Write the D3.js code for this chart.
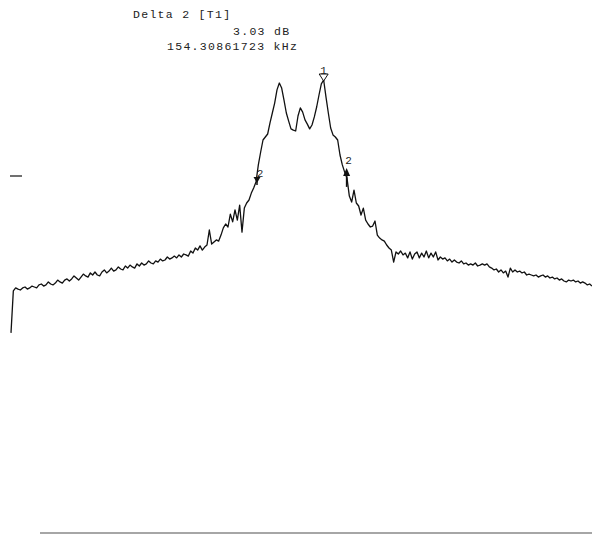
<!DOCTYPE html>
<html>
<head>
<meta charset="utf-8">
<script src="https://cdn.jsdelivr.net/npm/d3@7"></script>
<style>
  html, body { margin: 0; padding: 0; background: #fff; }
  svg { display: block; }
  .hdr { font-family: "Liberation Mono", "DejaVu Sans Mono", monospace; font-size: 11.5px; letter-spacing: 1.3px; fill: #222; }
  .mk  { font-family: "Liberation Mono", "DejaVu Sans Mono", monospace; font-size: 11px; fill: #222; }
</style>
</head>
<body>
<svg id="chart" width="592" height="534"></svg>
<script>
// Sweep: 250 trace points spread evenly over a 1 MHz span (offsets in kHz)
const sweepStartKHz = -500;
const sweepStopKHz = 500;

// Trace level in dB, one value per sweep point
const levelDb = [
  -8.43,
  -7.03, -6.93, -6.97, -7.00, -6.93, -6.90, -6.97, -6.93, -6.87, -6.90,
  -6.93, -6.83, -6.80, -6.87, -6.83, -6.73, -6.80, -6.83, -6.77, -6.67,
  -6.73, -6.77, -6.67, -6.63, -6.70, -6.63, -6.53, -6.60, -6.67, -6.57,
  -6.47, -6.53, -6.57, -6.43, -6.50, -6.40, -6.50, -6.53, -6.40, -6.33,
  -6.43, -6.37, -6.27, -6.37, -6.33, -6.23, -6.30, -6.33, -6.20, -6.27,
  -6.17, -6.23, -6.27, -6.13, -6.20, -6.10, -6.17, -6.13, -6.03, -6.10,
  -6.13, -6.03, -6.07, -5.97, -6.03, -6.00, -5.90, -5.97, -5.93, -5.87,
  -5.93, -5.83, -5.90, -5.80, -5.83, -5.87, -5.70, -5.77, -5.60, -5.67,
  -5.53, -5.67, -5.57, -5.50, -5.00, -5.47, -5.40, -5.33, -5.37,
  -5.17, -4.93, -4.80, -4.90, -4.47, -4.73, -4.33, -4.67, -4.17, -5.07,
  -4.27, -4.10, -4.00, -3.77, -3.60, -3.40, -2.83, -2.40, -2.00, -1.90,
  -1.80, -1.43, -1.10, -0.77, -0.33, -0.10, -0.27, -0.67, -1.10, -1.37,
  -1.63, -1.67, -1.70, -1.20, -0.93, -1.07, -1.33, -1.47, -1.63, -1.50,
  -1.23, -0.90, -0.50, -0.13, 0.00, -0.57, -1.10, -1.60, -1.83, -1.90,
  -2.00, -2.50, -2.83, -3.07, -3.27, -3.87, -4.07, -3.67, -4.10, -4.20,
  -4.50, -4.27, -4.67, -4.80, -4.90, -4.87, -4.70, -5.17, -5.27, -5.33,
  -5.37, -5.50, -5.60, -5.67, -6.07, -5.73, -5.80, -5.70, -5.83, -5.77,
  -5.93, -5.73, -5.97, -5.80, -5.73, -5.93, -5.77, -5.90, -5.70, -5.93,
  -5.77, -5.90, -5.73, -6.00, -5.90, -5.97, -5.93, -6.03, -5.97, -6.07,
  -6.00, -6.07, -6.10, -6.03, -6.13, -6.10, -6.17, -6.13, -6.17, -6.10,
  -6.20, -6.17, -6.13, -6.17, -6.13, -6.23, -6.27, -6.33, -6.30, -6.40,
  -6.33, -6.43, -6.37, -6.57, -6.27, -6.40, -6.33, -6.40, -6.37, -6.43,
  -6.40, -6.50, -6.47, -6.50, -6.53, -6.50, -6.57, -6.53, -6.50, -6.57,
  -6.53, -6.60, -6.57, -6.63, -6.60, -6.67, -6.63, -6.70, -6.73, -6.67,
  -6.70, -6.67, -6.73, -6.70, -6.77, -6.73, -6.77, -6.83, -6.80, -6.87
];

// Marker readout
const deltaTitle = "Delta 2 [T1]";
const deltaLevelDb = 3.03;
const deltaFreqKHz = 154.30861723;
const readoutLines = [deltaTitle, deltaLevelDb.toFixed(2) + " dB", deltaFreqKHz.toFixed(8) + " kHz"];

// Lower edge of the n-dB bandwidth (kHz offset); upper edge follows from the delta
const bandLowKHz = -76.6;
// Display line level (dB)
const displayLineDb = -3.2;

const svg = d3.select("#chart");

const x = d3.scaleLinear().domain([sweepStartKHz, sweepStopKHz]).range([11, 592]);
const y = d3.scaleLinear().domain([1, -15]).range([50, 530]);

const step = (sweepStopKHz - sweepStartKHz) / (levelDb.length - 1);
const trace = levelDb.map((v, i) => ({ f: sweepStartKHz + i * step, v }));

// Readout text block
const readoutPos = [[133, 18], [233, 35], [167, 50]];
svg.selectAll("text.hdr").data(readoutLines).join("text")
  .attr("class", "hdr")
  .attr("x", (d, i) => readoutPos[i][0])
  .attr("y", (d, i) => readoutPos[i][1])
  .text(d => d);

// Display line tick at the left edge
svg.append("line")
  .attr("x1", 10).attr("x2", 22)
  .attr("y1", y(displayLineDb)).attr("y2", y(displayLineDb))
  .attr("stroke", "#111").attr("stroke-width", 1.2);

// Trace
svg.append("path")
  .datum(trace)
  .attr("fill", "none")
  .attr("stroke", "#111")
  .attr("stroke-width", 1.3)
  .attr("stroke-linejoin", "round")
  .attr("d", d3.line().x(d => x(d.f)).y(d => y(d.v)));

// Marker 1 at the trace maximum
const peak = trace[d3.maxIndex(trace, d => d.v)];
const m1x = x(peak.f), m1y = y(peak.v);
svg.append("path")
  .attr("d", `M${m1x - 4.5},${m1y - 6} L${m1x + 4.5},${m1y - 6} L${m1x},${m1y + 1} Z`)
  .attr("fill", "#fff").attr("stroke", "#111").attr("stroke-width", 1);
svg.append("text").attr("class", "mk")
  .attr("x", m1x).attr("y", m1y - 6).attr("text-anchor", "middle").text("1");

// Marker 2 pair, deltaLevelDb below marker 1, deltaFreqKHz apart
const m2y = y(peak.v - deltaLevelDb);
const m2L = x(bandLowKHz);
const m2R = x(bandLowKHz + deltaFreqKHz);

svg.append("path")
  .attr("d", `M${m2L - 3.5},${m2y + 6} L${m2L + 3.5},${m2y + 6} L${m2L},${m2y + 12} Z`)
  .attr("fill", "#111");
svg.append("line")
  .attr("x1", m2L).attr("x2", m2L).attr("y1", m2y + 6).attr("y2", m2y + 14)
  .attr("stroke", "#111").attr("stroke-width", 1.5);
svg.append("text").attr("class", "mk")
  .attr("x", m2L + 3).attr("y", m2y + 6).attr("text-anchor", "middle").text("2");

svg.append("path")
  .attr("d", `M${m2R - 3.5},${m2y + 5} L${m2R + 3.5},${m2y + 5} L${m2R},${m2y - 3} Z`)
  .attr("fill", "#111");
svg.append("line")
  .attr("x1", m2R).attr("x2", m2R).attr("y1", m2y + 4).attr("y2", m2y + 16)
  .attr("stroke", "#111").attr("stroke-width", 1.6);
svg.append("text").attr("class", "mk")
  .attr("x", m2R + 2).attr("y", m2y - 7).attr("text-anchor", "middle").text("2");

// Bottom rule
svg.append("line")
  .attr("x1", 40).attr("x2", 592).attr("y1", 533).attr("y2", 533)
  .attr("stroke", "#888").attr("stroke-width", 1.5);
</script>
</body>
</html>
